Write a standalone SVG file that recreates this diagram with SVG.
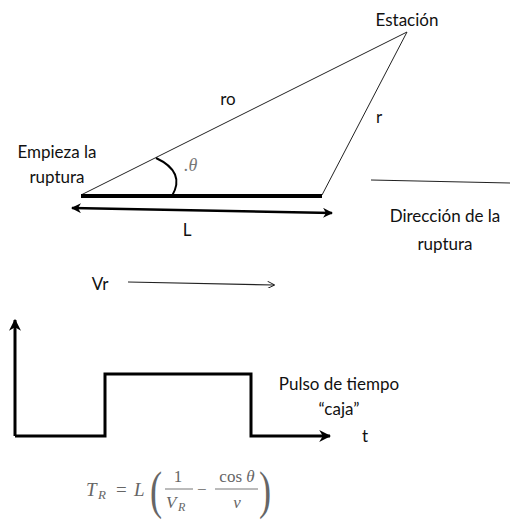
<svg xmlns="http://www.w3.org/2000/svg" width="510" height="523" viewBox="0 0 510 523">
<defs>
<marker id="ah" viewBox="0 0 10 10" refX="9" refY="5" markerWidth="4" markerHeight="4" orient="auto-start-reverse" markerUnits="strokeWidth"><path d="M0,0 L10,5 L0,10 L3,5 z" fill="#000"/></marker>
<marker id="ahs" viewBox="0 0 10 10" refX="9" refY="5" markerWidth="8" markerHeight="6" orient="auto" markerUnits="strokeWidth"><path d="M0,0 L10,5 L0,10" fill="none" stroke="#000" stroke-width="1.2"/></marker>
<style>
.lbl{font-family:"Lato","Open Sans",sans-serif;font-size:17px;fill:#111}
.m{font-family:"Liberation Serif","DejaVu Serif",serif;fill:#666}
.mi{font-style:italic}
.thin{stroke:#222;stroke-width:1;fill:none}
</style>
</defs>
<g id="connectors">
<path class="thin" d="M81,195 L407,32 L322,195"/>
<line x1="81" y1="196" x2="322" y2="196" stroke="#000" stroke-width="4"/>
<line x1="72" y1="208" x2="332" y2="213" stroke="#000" stroke-width="2.5" marker-start="url(#ah)" marker-end="url(#ah)"/>
<path d="M156,158 Q186,172 172,196" fill="none" stroke="#000" stroke-width="2"/>
<line x1="371" y1="180" x2="510" y2="183" stroke="#222" stroke-width="1.2"/>
<line x1="128" y1="282" x2="274" y2="285" stroke="#222" stroke-width="1.2" marker-end="url(#ahs)"/>
<path d="M15,436 L15,320" fill="none" stroke="#000" stroke-width="3" marker-end="url(#ah)"/>
<path d="M15,436 L105,436 L105,374 L251,374 L251,436 L330,436" fill="none" stroke="#000" stroke-width="3" marker-end="url(#ah)"/>
</g>
<g id="estacion"><text class="lbl" x="407" y="26" text-anchor="middle">Estación</text></g>
<g id="ro"><text class="lbl" x="228" y="105" text-anchor="middle">ro</text></g>
<g id="r"><text class="lbl" x="379" y="123" text-anchor="middle">r</text></g>
<g id="empieza"><text class="lbl" x="57" y="158" text-anchor="middle">Empieza la</text><text class="lbl" x="57" y="183" text-anchor="middle">ruptura</text></g>
<g id="theta"><text x="184" y="171" font-family="Liberation Serif,serif" font-size="18" fill="#777" font-style="italic">.θ</text></g>
<g id="L"><text class="lbl" x="187" y="236" text-anchor="middle">L</text></g>
<g id="direccion"><text class="lbl" x="445" y="222" text-anchor="middle">Dirección de la</text><text class="lbl" x="445" y="250" text-anchor="middle">ruptura</text></g>
<g id="vr"><text class="lbl" x="100" y="290" text-anchor="middle">Vr</text></g>
<g id="pulso"><text class="lbl" x="339" y="390" text-anchor="middle">Pulso de tiempo</text><text class="lbl" x="339" y="415" text-anchor="middle">“caja”</text></g>
<g id="t"><text class="lbl" x="365" y="442" text-anchor="middle">t</text></g>
<g id="formula">
<text class="m mi" x="86" y="496" style="font-size:19px">T</text><text class="m mi" x="98" y="499" style="font-size:13px">R</text>
<text class="m" x="116" y="496" style="font-size:19px">=</text>
<text class="m mi" x="134" y="496" style="font-size:19px">L</text>
<text class="m" x="150" y="508" style="font-size:52px" transform="translate(150,508) scale(0.7,1) translate(-150,-508)">(</text>
<text class="m" x="178" y="482" text-anchor="middle" style="font-size:17px">1</text>
<line x1="165" y1="489" x2="193" y2="489" stroke="#777" stroke-width="1"/>
<text class="m mi" x="166" y="508" style="font-size:17px">V</text><text class="m mi" x="178" y="511" style="font-size:12px">R</text>
<text class="m" x="197" y="495" style="font-size:17px">−</text>
<text class="m" x="237" y="482" text-anchor="middle" style="font-size:17px">cos <tspan font-style="italic">θ</tspan></text>
<line x1="215" y1="489" x2="258" y2="489" stroke="#777" stroke-width="1"/>
<text class="m mi" x="237" y="508" text-anchor="middle" style="font-size:17px">v</text>
<text class="m" x="259" y="508" style="font-size:52px" transform="translate(259,508) scale(0.7,1) translate(-259,-508)">)</text>
</g>
</svg>
